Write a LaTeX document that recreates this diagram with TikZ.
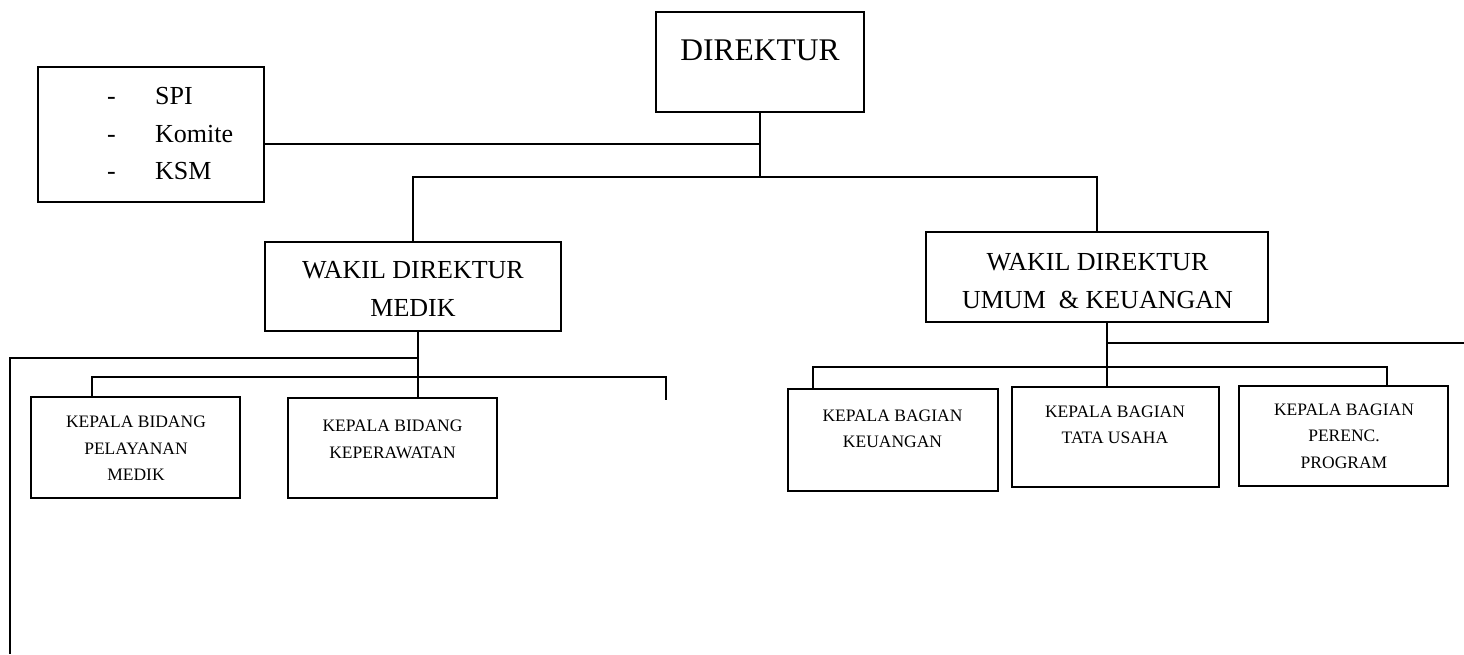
\documentclass[tikz,border=0pt]{standalone}
\usepackage{fontspec}
\setmainfont{Liberation Serif}
\begin{document}
\begin{tikzpicture}[x=1pt,y=-1pt,
  orgbox/.style={draw=black,line width=2.4pt,rectangle,inner sep=0pt},
  conn/.style={draw=black,line width=1.3pt},
  bigtxt/.style={inner sep=0pt,align=center,font=\fontsize{26}{38}\selectfont},
  smalltxt/.style={inner sep=0pt,align=center,font=\fontsize{17.5}{26.5}\selectfont}]
\useasboundingbox (0,0) rectangle (1464,654);
% boxes
\node[orgbox,minimum width=226pt,minimum height=135pt] (spi) at (151,134.5) {};
\node[orgbox,minimum width=208pt,minimum height=100pt] (dir) at (760,62) {};
\node[orgbox,minimum width=296pt,minimum height=89pt] (medik) at (413,286.5) {};
\node[orgbox,minimum width=342pt,minimum height=90pt] (umum) at (1097,277) {};
\node[orgbox,minimum width=209pt,minimum height=101pt] (pel) at (135.5,447.5) {};
\node[orgbox,minimum width=209pt,minimum height=100pt] (kep) at (392.5,448) {};
\node[orgbox,minimum width=210pt,minimum height=102pt] (keu) at (893,440) {};
\node[orgbox,minimum width=207pt,minimum height=100pt] (tu) at (1115.5,437) {};
\node[orgbox,minimum width=209pt,minimum height=100pt] (per) at (1343.5,436) {};
% texts
\node[inner sep=0pt,anchor=west,align=left,font=\fontsize{26}{37.5}\selectfont] (spit) at (107,134)
  {\makebox[48pt][l]{-}SPI\\\makebox[48pt][l]{-}Komite\\\makebox[48pt][l]{-}KSM};
\node[inner sep=0pt,font=\fontsize{31.5}{38}\selectfont] (dirt) at (760,50) {DIREKTUR};
\node[bigtxt] (medikt) at (413,289) {WAKIL DIREKTUR\\MEDIK};
\node[bigtxt] (umumt) at (1097.5,281) {WAKIL DIREKTUR\\UMUM~~\& KEUANGAN};
\node[smalltxt] (pelt) at (136,448.5) {KEPALA BIDANG\\PELAYANAN\\MEDIK};
\node[smalltxt] (kept) at (392.5,439.5) {KEPALA BIDANG\\KEPERAWATAN};
\node[smalltxt] (keut) at (892.5,429) {KEPALA BAGIAN\\KEUANGAN};
\node[smalltxt] (tut) at (1115,425) {KEPALA BAGIAN\\TATA USAHA};
\node[smalltxt] (pert) at (1344,436) {KEPALA BAGIAN\\PERENC.\\PROGRAM};
% junction coordinates
\coordinate (j0) at (760,177);
\coordinate (spij) at (760,144);
\coordinate (mj) at (418,358);
\coordinate (ml) at (10,358);
\coordinate (mb) at (10,654);
\coordinate (pj) at (92,377);
\coordinate (ke) at (666,377);
\coordinate (kee) at (666,400);
\coordinate (uj) at (1107,343);
\coordinate (ur) at (1464,343);
\coordinate (rl) at (813,367);
\coordinate (rr) at (1387,367);
% connectors
\draw[conn] (dir.south) -- (j0);
\draw[conn] (spi.east |- spij) -- (spij);
\draw[conn] (medik.north) |- (j0) -| (umum.north);
\draw[conn] (mj |- medik.south) -- (mj |- kep.north);
\draw[conn] (mj) -- (ml) -- (mb);
\draw[conn] (pj |- pel.north) -- (pj) -- (ke) -- (kee);
\draw[conn] (uj |- umum.south) -- (uj |- tu.north);
\draw[conn] (uj) -- (ur);
\draw[conn] (rl |- keu.north) -- (rl) -- (rr) -- (rr |- per.north);
\end{tikzpicture}
\end{document}
